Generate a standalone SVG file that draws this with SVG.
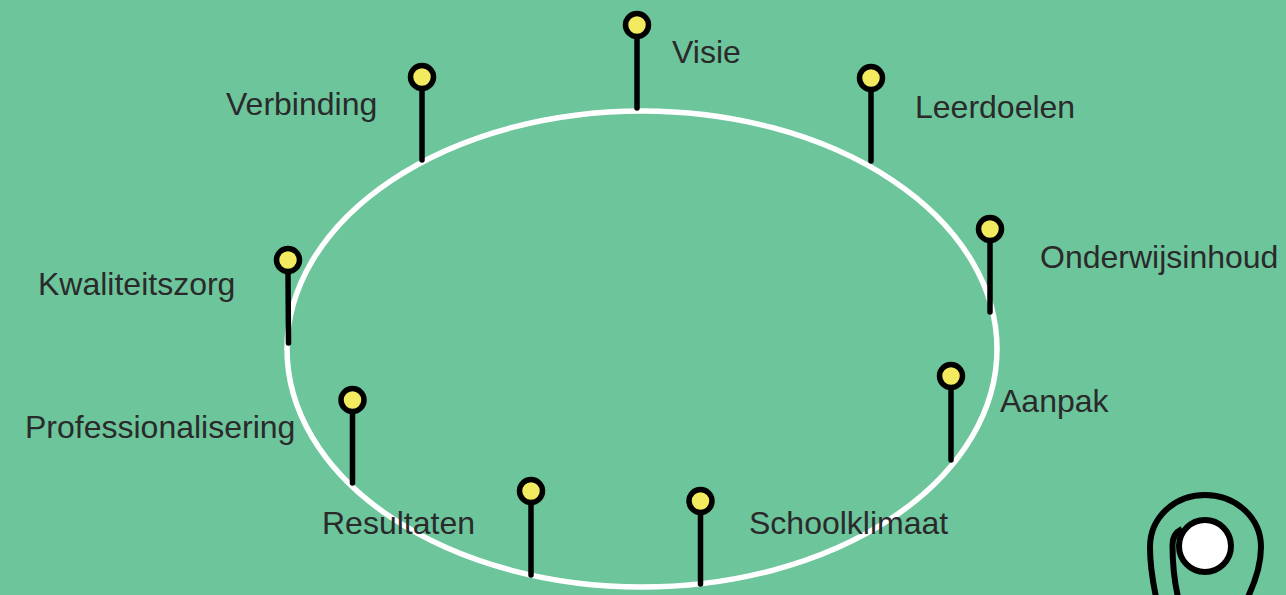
<svg xmlns="http://www.w3.org/2000/svg" width="1286" height="595" viewBox="0 0 1286 595">
<style>
.stem{fill:none;stroke:#000;stroke-width:5.500;stroke-linecap:round}
.head{fill:#f3ea5f;stroke:#000;stroke-width:5.500}
text{font-family:"Liberation Sans",Arial,sans-serif;font-size:32px;fill:#2a2a2a}
</style>
<rect width="1286" height="595" fill="#6dc59c"/>
<ellipse id="ring" cx="642" cy="349" rx="355" ry="238" fill="none" stroke="#fff" stroke-width="5.500"/>
<g id="connectors">
<path class="stem" d="M637 36V108"/>
<path class="stem" d="M422 88V160"/>
<path class="stem" d="M871 89V161"/>
<path class="stem" d="M990 240V312"/>
<path class="stem" d="M288 271L288.500 343"/>
<path class="stem" d="M951 388V460"/>
<path class="stem" d="M352.500 411V483"/>
<path class="stem" d="M531 503V575"/>
<path class="stem" d="M700.500 512V584"/>
</g>
<g id="visie"><circle class="head" cx="637" cy="25" r="11.500"/><text x="672" y="63">Visie</text></g>
<g id="verbinding"><circle class="head" cx="422" cy="77" r="11.500"/><text x="226" y="115">Verbinding</text></g>
<g id="leerdoelen"><circle class="head" cx="871" cy="78" r="11.500"/><text x="915" y="118">Leerdoelen</text></g>
<g id="onderwijsinhoud"><circle class="head" cx="990" cy="229" r="11.500"/><text x="1040" y="268">Onderwijsinhoud</text></g>
<g id="kwaliteitszorg"><circle class="head" cx="288" cy="260" r="11.500"/><text x="38" y="295">Kwaliteitszorg</text></g>
<g id="aanpak"><circle class="head" cx="951" cy="376" r="11.500"/><text x="1000" y="412">Aanpak</text></g>
<g id="professionalisering"><circle class="head" cx="352.500" cy="400" r="11.500"/><text x="25" y="438">Professionalisering</text></g>
<g id="resultaten"><circle class="head" cx="531" cy="491" r="11.500"/><text x="322" y="534">Resultaten</text></g>
<g id="schoolklimaat"><circle class="head" cx="700.500" cy="501" r="11.500"/><text x="749" y="534">Schoolklimaat</text></g>
<g id="marker">
<path d="M1156 597C1152 578 1150 562 1150 547C1150 518 1174 495 1205 495C1236 495 1261 518 1261 547C1261 565 1255 582 1248 597" fill="none" stroke="#000" stroke-width="6"/>
<path d="M1178 597C1174 580 1172.500 562 1172.500 545C1172.500 538 1176 532 1182 529" fill="none" stroke="#000" stroke-width="6"/>
<circle cx="1205" cy="546" r="26" fill="#fff" stroke="#000" stroke-width="6"/>
</g>
</svg>
